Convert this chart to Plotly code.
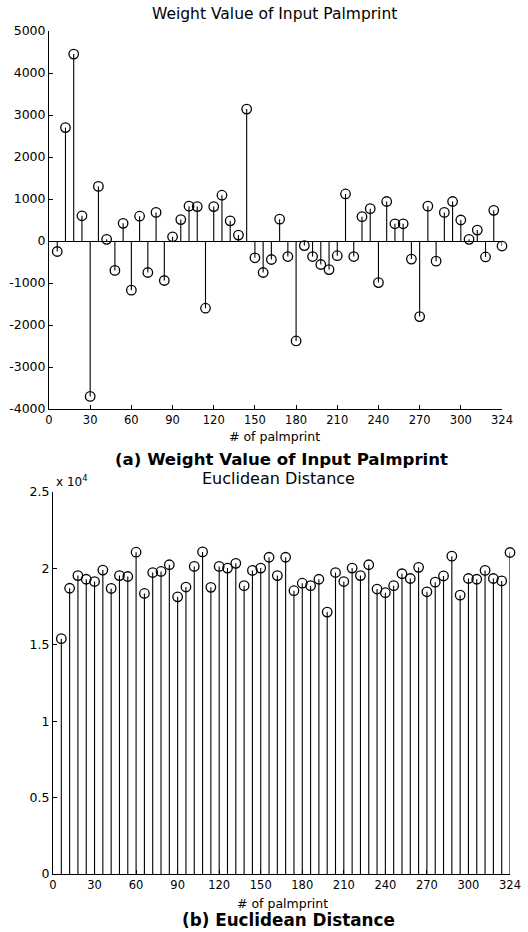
import plotly.graph_objects as go

# ---- data ----
palmprint_no = list(range(6, 331, 6))  # 55 palmprints
weight_values = [
    -250, 2700, 4450, 600, -3700, 1300, 40, -700, 420, -1170,
    590, -750, 680, -940, 100, 510, 830, 820, -1600, 820,
    1090, 480, 140, 3140, -400, -750, -440, 520, -370, -2380,
    -110, -370, -560, -680, -350, 1120, -370, 580, 770, -990,
    940, 410, 410, -430, -1800, 830, -480, 680, 940, 500,
    40, 260, -380, 730, -120,
]
euclid_values = [
    15400, 18700, 19530, 19290, 19140, 19890, 18690, 19530, 19470, 21060,
    18360, 19730, 19800, 20240, 18140, 18780, 20130, 21080, 18760, 20130,
    20020, 20330, 18870, 19870, 20020, 20730, 19530, 20730, 18540, 19030,
    18870, 19290, 17140, 19730, 19140, 20020, 19530, 20240, 18650, 18410,
    18870, 19650, 19340, 20070, 18470, 19100, 19510, 20800, 18250, 19340,
    19290, 19870, 19340, 19180, 21040,
]
x_tickvals = [0, 30, 60, 90, 120, 150, 180, 210, 240, 270, 300, 330]
x_ticktext = ["0", "30", "60", "90", "120", "150", "180", "210", "240", "270", "300", "324"]
y1_tickvals = [-4000, -3000, -2000, -1000, 0, 1000, 2000, 3000, 4000, 5000]
y1_ticktext = ["-4000", "-3000", "-2000", "-1000", "0", "1000", "2000", "3000", "4000", "5000"]
y2_tickvals = [0, 5000, 10000, 15000, 20000, 25000]
y2_ticktext = ["0", "0.5", "1", "1.5", "2", "2.5"]

W, H = 528, 932
FONT = "DejaVu Sans, Liberation Sans, sans-serif"


def py(px):
    return 1 - px / H


def px_x(px):
    return px / W


def stems(xs, vs):
    sx, sy = [], []
    for x, v in zip(xs, vs):
        sx += [x, x, None]
        sy += [0, v, None]
    return sx, sy


fig = go.Figure()

for vals, xa, ya in [(weight_values, "x", "y"), (euclid_values, "x2", "y2")]:
    sx, sy = stems(palmprint_no, vals)
    fig.add_trace(go.Scatter(x=sx, y=sy, mode="lines", xaxis=xa, yaxis=ya,
                             line=dict(color="black", width=1.1),
                             hoverinfo="skip", showlegend=False))
    fig.add_trace(go.Scatter(x=palmprint_no, y=vals, mode="markers", xaxis=xa, yaxis=ya,
                             marker=dict(symbol="circle-open", size=9.5, color="black",
                                         line=dict(width=1.3, color="black")),
                             cliponaxis=False, showlegend=False))

axis_common = dict(showgrid=False, showline=True, linecolor="black", linewidth=1,
                   ticks="inside", ticklen=4, tickcolor="black", tickwidth=1,
                   automargin=False, mirror=False)
xfont = dict(family=FONT, size=11.5, color="black")
yfont = dict(family=FONT, size=12.5, color="black")

fig.update_layout(
    template="none",
    width=W, height=H, autosize=False,
    margin=dict(l=0, r=0, t=0, b=0, pad=0),
    paper_bgcolor="white", plot_bgcolor="white",
    xaxis=dict(domain=[px_x(49), px_x(502)], range=[0, 330], anchor="y",
               tickvals=x_tickvals, ticktext=x_ticktext, zeroline=False,
               tickfont=xfont, **axis_common),
    yaxis=dict(domain=[py(409), py(31)], range=[-4000, 5000], anchor="x",
               tickvals=y1_tickvals, ticktext=y1_ticktext, tickfont=yfont,
               zeroline=True, zerolinecolor="black", zerolinewidth=1, **axis_common),
    xaxis2=dict(domain=[px_x(53), px_x(510)], range=[0, 330], anchor="y2",
                tickvals=x_tickvals, ticktext=x_ticktext, zeroline=False,
                tickfont=xfont, **axis_common),
    yaxis2=dict(domain=[py(874), py(492)], range=[0, 25000], anchor="x2",
                tickvals=y2_tickvals, ticktext=y2_ticktext, zeroline=False,
                tickfont=yfont, **axis_common),
)

ann = [
    dict(text="Weight Value of Input Palmprint", x=px_x(274), y=py(14), size=15.5, bold=False),
    dict(text="# of palmprint", x=px_x(274), y=py(436), size=12.5, bold=False),
    dict(text="(a) Weight Value of Input Palmprint", x=px_x(281), y=py(459), size=16.6, bold=True),
    dict(text="Euclidean Distance", x=px_x(278), y=py(478), size=16, bold=False),
    dict(text="# of palmprint", x=px_x(282), y=py(903), size=12.5, bold=False),
    dict(text="(b) Euclidean Distance", x=px_x(288), y=py(920), size=16.8, bold=True),
]
for a in ann:
    fig.add_annotation(text=a["text"], x=a["x"], y=a["y"], xref="paper", yref="paper",
                       xanchor="center", yanchor="middle", showarrow=False,
                       font=dict(family=FONT, size=a["size"], color="black",
                                 weight="bold" if a["bold"] else "normal"))

fig.add_annotation(text="x 10<sup>4</sup>", x=px_x(54), y=py(481), xref="paper", yref="paper",
                   xanchor="left", yanchor="middle", showarrow=False,
                   font=dict(family=FONT, size=12, color="black"))

fig.write_html(
    "out.html",
    config={"displayModeBar": False},
    post_script="document.body.style.margin='0';document.body.style.overflow='hidden';",
)
